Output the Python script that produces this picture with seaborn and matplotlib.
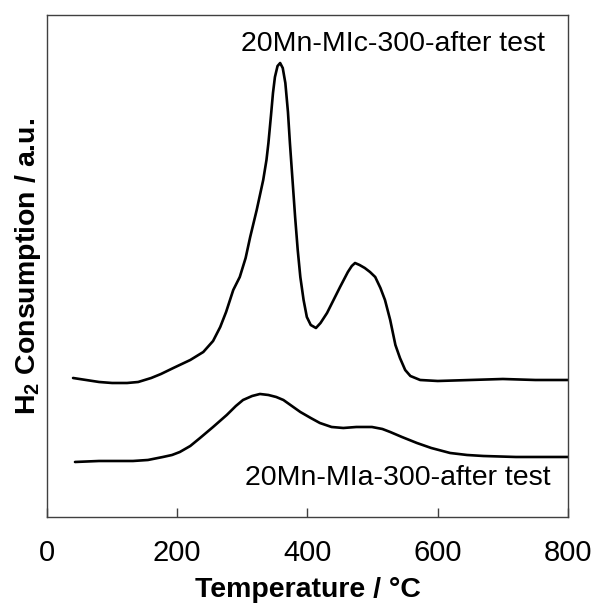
import matplotlib
matplotlib.use("Agg")
from matplotlib import pyplot as plt
import seaborn as sns
import pandas as pd

# TPR profiles (signal in arbitrary units)
temp_mic = [40, 60, 80, 100, 123, 140, 160, 175, 194, 220, 240, 255, 266, 275, 281, 286, 296,
            305, 312, 322, 332, 337, 340, 344, 347, 350, 354, 358, 362, 366, 370, 373, 377, 381,
            385, 389, 394, 399, 405, 413, 420, 430, 440, 450, 462, 468, 473, 480, 488, 496, 504,
            512, 519, 527, 535, 542, 550, 558, 573, 600, 650, 700, 750, 800]
h2_mic = [139, 137, 135, 134, 134, 135, 139, 143, 149, 157, 165, 176, 190, 205, 217, 227, 240,
          259, 280, 307, 337, 357, 374, 402, 424, 440, 451, 454, 449, 434, 405, 374, 337, 300,
          267, 240, 217, 200, 192, 189, 194, 204, 217, 230, 245, 251, 254, 252, 249, 245, 240,
          229, 217, 197, 172, 159, 147, 141, 137, 136, 137, 138, 137, 137]

temp_mia = [43, 80, 132, 155, 178, 192, 204, 220, 235, 255, 276, 290, 301, 315, 327, 340, 352, 363,
            376, 389, 405, 419, 437, 455, 475, 499, 515, 527, 545, 568, 590, 619, 645, 670,
            720, 760, 800]
h2_mia = [55, 56, 56, 57, 60, 62, 65, 71, 79, 90, 102, 111, 117, 121, 123, 122, 120, 117,
          111, 105, 99, 94, 90, 89, 90, 90, 88, 85, 80, 74, 69, 64, 62, 61,
          60, 60, 60]

labels = ["20Mn-MIc-300-after test", "20Mn-MIa-300-after test"]

sns.set_theme(style="white")
plt.rcParams["font.family"] = ["Liberation Sans", "DejaVu Sans"]
plt.rcParams["mathtext.fontset"] = "custom"
plt.rcParams["mathtext.bf"] = "Liberation Sans:bold"
plt.rcParams["mathtext.rm"] = "Liberation Sans"
plt.rcParams["text.color"] = "black"
plt.rcParams["axes.labelcolor"] = "black"
plt.rcParams["xtick.color"] = "black"

df_mic = pd.DataFrame({"T": temp_mic, "H2": h2_mic})
df_mia = pd.DataFrame({"T": temp_mia, "H2": h2_mia})

fig = plt.figure(figsize=(5.98, 6.06), dpi=100)
ax = fig.add_axes([0.0786, 0.1469, 0.8712, 0.8283])

sns.lineplot(data=df_mic, x="T", y="H2", color="black", lw=1.9, ax=ax,
             solid_joinstyle="round")
sns.lineplot(data=df_mia, x="T", y="H2", color="black", lw=1.9, ax=ax,
             solid_joinstyle="round")

ax.set_xlim(0, 800)
ax.set_ylim(0, 502)
ax.set_xticks([0, 200, 400, 600, 800])
ax.set_yticks([])
ax.tick_params(axis="x", bottom=True, direction="in", length=6.5, width=1,
               color="#404040", labelcolor="black", labelsize=21, pad=16)
for s in ax.spines.values():
    s.set_color("#404040")
    s.set_linewidth(1.0)

ax.set_xlabel("Temperature / °C", fontsize=20.5, fontweight="bold", labelpad=7)
ax.set_ylabel(r"H$_\mathbf{2}$ Consumption / a.u.", fontsize=20.5, fontweight="bold", labelpad=3)

ax.text(531, 473, labels[0], fontsize=20.5, ha="center", va="center")
ax.text(538, 39, labels[1], fontsize=20.5, ha="center", va="center")

fig.savefig("out.png", dpi=100)
